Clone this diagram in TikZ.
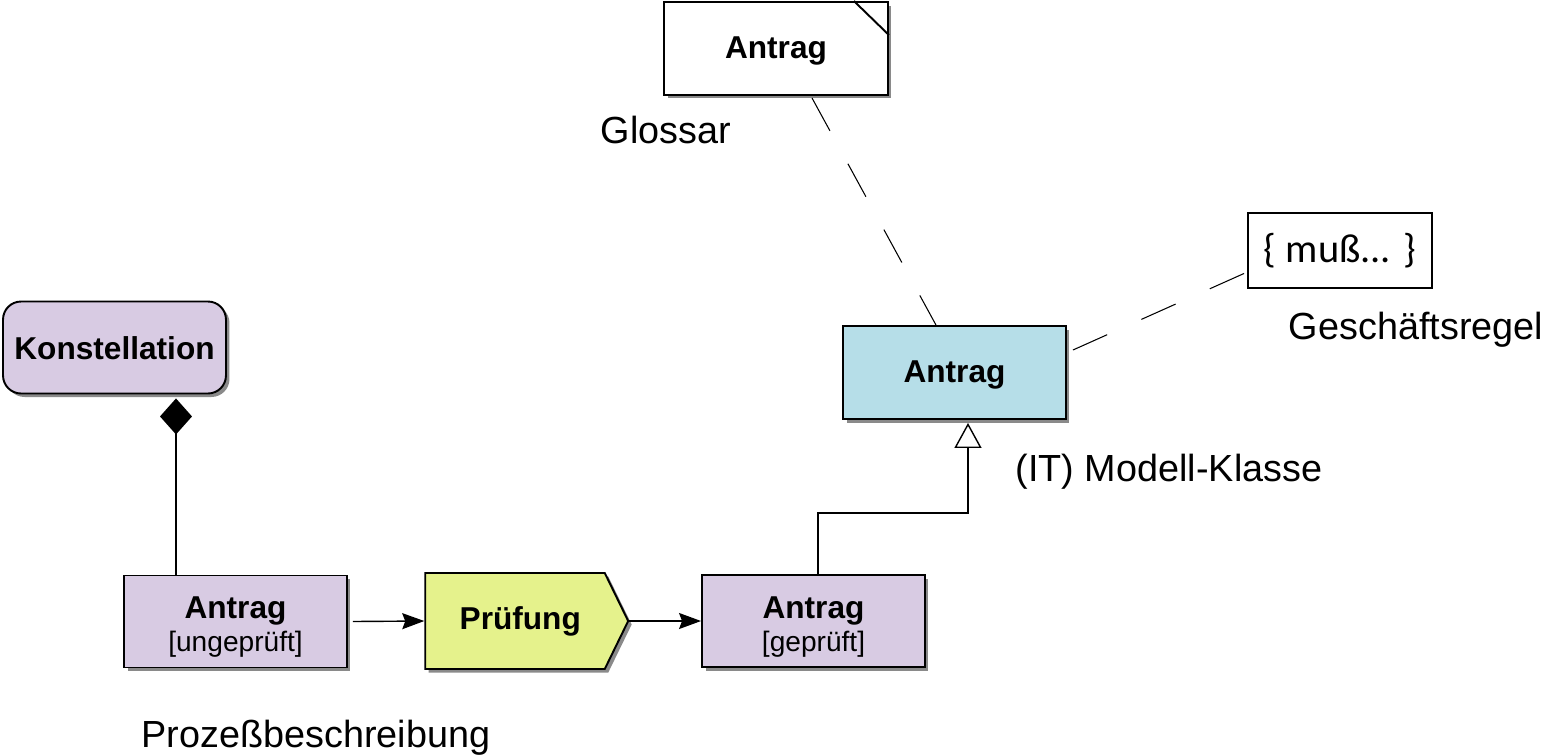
\documentclass[tikz,border=0pt]{standalone}
\usepackage{fontspec}
\setmainfont{Liberation Sans}
\newfontfamily\regelfont{Carlito}
\usetikzlibrary{arrows.meta,shapes.symbols,shadows}
\definecolor{zustandlila}{HTML}{D8CBE3}
\definecolor{klassenblau}{HTML}{B6DEE8}
\definecolor{funktiongruen}{HTML}{E5F28C}
\definecolor{schatten}{HTML}{8A8A8A}

\begin{document}
\begin{tikzpicture}[x=0.02cm, y=-0.02cm, >=Stealth,
    box/.style={draw, line width=1.1pt, minimum width=4.46cm, minimum height=1.84cm,
        align=center, font=\fontsize{18}{19}\selectfont\bfseries,
        drop shadow={shadow xshift=0.07cm, shadow yshift=-0.07cm, fill=schatten, opacity=1}},
    beschriftung/.style={font=\fontsize{21.5}{23}\selectfont},
    fluss/.style={line width=0.8pt, -{Stealth[length=0.44cm, width=0.32cm, inset=0.06cm]}},
    verweis/.style={line width=0.6pt, dash pattern=on 0.75cm off 0.75cm}]

    \useasboundingbox (0,0) rectangle (1543,755);

    % Prozess
    \node[box, fill=zustandlila, rounded corners=0.36cm, text height=14pt] (konst) at (114.5,347.5) {Konstellation};
    \node[box, fill=zustandlila] (antragU) at (235.5,621.5) {\rule{0pt}{19pt}Antrag\\{\fontsize{16}{18.5}\selectfont\mdseries [ungeprüft]}};
    \node[box, fill=funktiongruen, signal, signal to=east, signal pointer angle=128,
        minimum width=4.06cm, minimum height=1.92cm] (pruef) at (515,621) {\hspace*{6pt}Prüfung};
    \node[box, fill=zustandlila] (antragG) at (813.5,621) {\rule{0pt}{19pt}Antrag\\{\fontsize{16}{18.5}\selectfont\mdseries [geprüft]}};

    % Modell, Glossar, Regel
    \node[box, fill=klassenblau, minimum height=1.86cm, text height=15pt] (klasse) at (954.5,372.5) {Antrag};
    \node[box, fill=white, minimum width=4.48cm, minimum height=1.86cm, text height=15pt] (glos) at (776,48.5) {Antrag};
    \draw[line width=1.1pt] ([xshift=-0.7cm]glos.north east) -- ([yshift=-0.68cm]glos.north east);
    \node[draw, line width=0.8pt, fill=white, minimum width=3.68cm, minimum height=1.5cm,
        font=\regelfont\fontsize{23}{25}\selectfont] (regel) at (1340,250.5) {\{ muß... \}};

    % Beschriftungen
    \node[beschriftung] (glosText) at (666,130) {Glossar};
    \node[beschriftung] (regelText) at (1416,330) {Geschäftsregel};
    \node[beschriftung] (klasseText) at (1169,472) {(IT) Modell-Klasse};
    \node[beschriftung] (prozessText) at (316,738) {Prozeßbeschreibung};

    % Verbindungen
    \coordinate (aggx) at (176,0);
    \coordinate (knick) at (968,513);
    \draw[line width=0.8pt, {Diamond[length=0.72cm, width=0.64cm]}-] ([yshift=-0.08cm]konst.south -| aggx) -- (antragU.north -| aggx);
    \draw[fluss] ([xshift=0.1cm]antragU.east) -- (pruef.west);
    \draw[fluss] (pruef.east) -- (antragG.west);
    \draw[line width=0.8pt, -{Triangle[open, length=0.5cm, width=0.54cm]}]
        ([xshift=0.09cm]antragG.north) |- (knick) -- ([yshift=-0.06cm]klasse.south -| knick);
    \draw[verweis] ([xshift=0.72cm, yshift=-0.04cm]glos.south) -- ([xshift=-0.37cm]klasse.north);
    \draw[verweis] ([shift={(0.12cm,0.45cm)}]klasse.east) -- ([yshift=-0.43cm]regel.west);

\end{tikzpicture}
\end{document}
